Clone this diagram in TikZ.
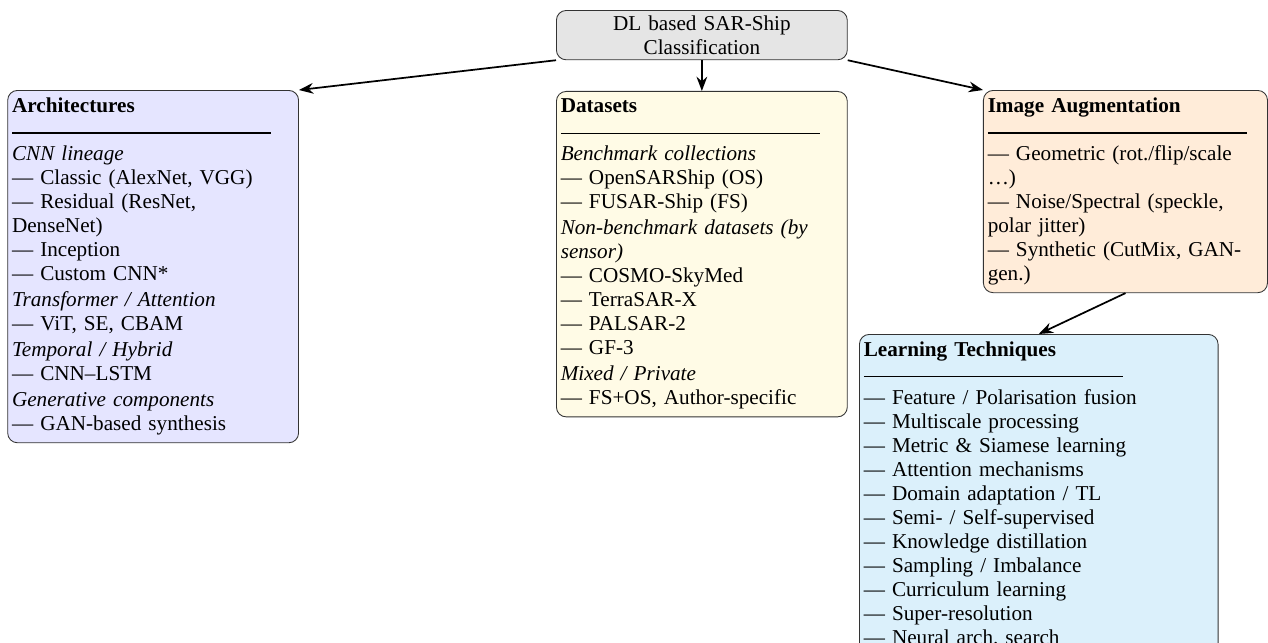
\documentclass[tikz,border=0pt]{standalone}
\usepackage{fontspec}
\setmainfont{Liberation Serif}
\usepackage{tikz}
\usetikzlibrary{positioning,arrows.meta}
\definecolor{datafill}{RGB}{255,251,230}
\definecolor{learnfill}{RGB}{219,240,251}
\tikzset{
  catbox/.style={rectangle, rounded corners=4.5pt, draw=black!80, align=left, anchor=north west, inner xsep=2pt, inner ysep=3.4pt, font=\fontsize{9.78}{11.1}\selectfont},
  rootnode/.style={catbox, fill=gray!20, text width=4.58cm, align=center, inner ysep=2.4pt},
  archnode/.style={catbox, fill=blue!10, text width=4.58cm},
  datanode/.style={catbox, fill=datafill, text width=4.58cm},
  augnode/.style={catbox, fill=orange!15, text width=4.47cm},
  learnnode/.style={catbox, fill=learnfill, text width=5.68cm},
  arrow/.style={->, >=Stealth, thick}
}
\newcommand{\seprule}{\rule[1.4pt]{4.2cm}{0.5pt}}

\begin{document}
\begin{tikzpicture}
\useasboundingbox (0,0) rectangle (20.58,10.42);
% root of the taxonomy
\node[rootnode] (root) at (9.024,10.257) {DL based SAR-Ship\\Classification};
% the four branches
\node[archnode] (arch) at (0.118,8.959) {\textbf{Architectures}\\
\seprule\\
\textit{CNN lineage}\\
--- Classic (AlexNet, VGG)\\
--- Residual (ResNet,\\
DenseNet)\\
--- Inception\\
--- Custom CNN*\\[0.9pt]
\textit{Transformer / Attention}\\
--- ViT, SE, CBAM\\[0.9pt]
\textit{Temporal / Hybrid}\\
--- CNN--LSTM\\[0.9pt]
\textit{Generative components}\\
--- GAN-based synthesis};
\node[datanode] (data) at (9.024,8.943) {\textbf{Datasets}\\
\seprule\\
\textit{Benchmark collections}\\
--- OpenSARShip (OS)\\
--- FUSAR-Ship (FS)\\[0.9pt]
\textit{Non-benchmark datasets (by}\\
\textit{sensor)}\\
--- COSMO-SkyMed\\
--- TerraSAR-X\\
--- PALSAR-2\\
--- GF-3\\[0.9pt]
\textit{Mixed / Private}\\
--- FS+OS, Author-specific};
\node[augnode] (aug) at (15.954,8.959) {\textbf{Image Augmentation}\\
\seprule\\
--- Geometric (rot./flip/scale\\
\ldots)\\
--- Noise/Spectral (speckle,\\
polar jitter)\\
--- Synthetic (CutMix, GAN-\\
gen.)};
\node[learnnode] (learn) at (13.942,4.999) {\textbf{Learning Techniques}\\
\seprule\\
--- Feature / Polarisation fusion\\
--- Multiscale processing\\
--- Metric \& Siamese learning\\
--- Attention mechanisms\\
--- Domain adaptation / TL\\
--- Semi- / Self-supervised\\
--- Knowledge distillation\\
--- Sampling / Imbalance\\
--- Curriculum learning\\
--- Super-resolution\\
--- Neural arch.\ search};
% connectors
\draw[arrow] (root.south west) -- (arch.north east);
\draw[arrow] (root.south) -- (data.north);
\draw[arrow] (root.south east) -- (aug.north west);
\draw[arrow] (aug.south) -- (learn.north);
\end{tikzpicture}
\end{document}
